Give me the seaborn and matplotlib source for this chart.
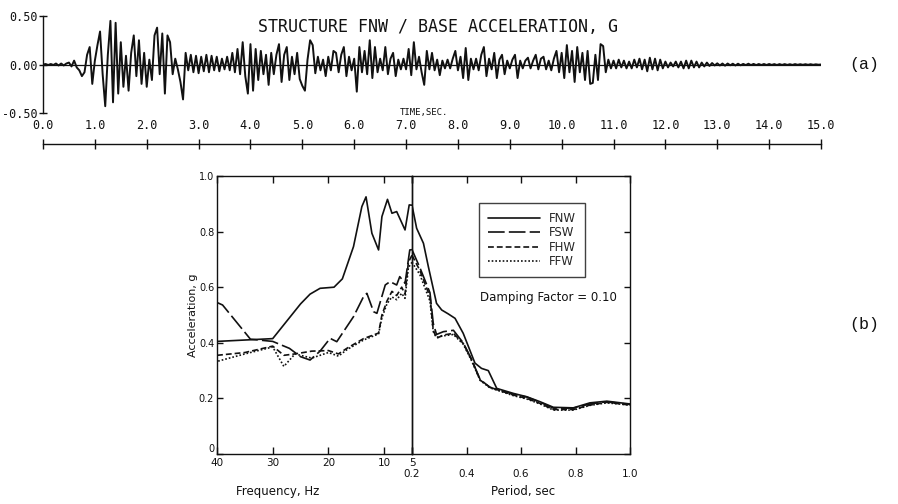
import numpy as np
import pandas as pd
import matplotlib
matplotlib.use("Agg")
import matplotlib.pyplot as plt
from matplotlib.lines import Line2D
import seaborn as sns

# --------------------------
# Data
# --------------------------
# (a) base acceleration trace, g, one value every 0.05 s (20 per second)
trace_dt = 0.05
sec00 = [0.0, 0.005, -0.005, 0.005, -0.005, 0.01, -0.01, 0.01, -0.01, 0.01, 0.02, -0.02, 0.04, -0.03, -0.06, -0.12, -0.08, 0.10, 0.18, -0.20]
sec01 = [0.04, 0.20, 0.34, -0.10, -0.43, 0.10, 0.45, -0.39, 0.43, -0.30, 0.23, -0.23, 0.09, -0.27, 0.12, 0.30, -0.12, 0.25, -0.20, 0.12]
sec02 = [-0.23, 0.05, -0.16, 0.30, 0.38, -0.10, 0.32, -0.30, 0.30, 0.23, -0.10, 0.06, -0.05, -0.18, -0.36, 0.12, -0.06, 0.10, -0.08, 0.09]
sec03 = [-0.09, 0.08, -0.07, 0.10, -0.08, 0.09, -0.06, 0.08, -0.07, 0.06, -0.05, 0.08, -0.06, 0.12, -0.08, 0.16, -0.10, 0.23, -0.12, -0.30]
sec04 = [0.21, -0.27, 0.16, -0.16, 0.14, -0.10, 0.10, -0.21, 0.12, -0.10, 0.10, 0.21, -0.18, 0.10, 0.18, -0.16, 0.08, -0.10, 0.12, -0.15]
sec05 = [-0.22, -0.27, 0.05, 0.25, 0.20, -0.09, 0.08, -0.06, 0.05, -0.12, 0.08, -0.06, 0.14, 0.12, -0.08, 0.10, 0.18, -0.12, 0.08, -0.06]
sec06 = [0.06, -0.28, 0.18, -0.08, 0.14, -0.10, 0.25, -0.14, 0.18, -0.08, 0.06, -0.06, 0.18, -0.10, 0.06, 0.12, -0.12, 0.05, -0.05, 0.06]
sec07 = [-0.05, 0.16, -0.11, 0.23, -0.05, 0.08, -0.08, -0.21, 0.14, -0.05, 0.12, -0.06, 0.05, -0.11, 0.04, -0.04, 0.05, -0.04, 0.06, 0.14]
sec08 = [-0.06, 0.08, -0.14, 0.17, -0.16, 0.06, -0.05, 0.06, -0.06, 0.10, 0.18, -0.12, 0.06, -0.05, 0.12, -0.14, 0.05, 0.10, -0.10, 0.04]
sec09 = [-0.04, 0.05, 0.10, -0.14, 0.04, -0.04, 0.04, 0.07, -0.04, 0.04, 0.10, -0.05, 0.06, 0.08, -0.05, 0.04, -0.06, 0.06, 0.14, -0.08]
sec10 = [0.12, -0.14, 0.20, -0.08, 0.14, -0.18, 0.18, -0.08, 0.12, -0.16, 0.14, -0.20, -0.19, 0.10, -0.16, 0.21, 0.19, -0.08, 0.05, -0.04]
sec11 = [0.04, -0.04, 0.05, -0.03, 0.04, -0.04, 0.03, -0.04, 0.05, -0.03, 0.06, -0.05, 0.05, -0.07, 0.07, -0.05, 0.06, -0.06, 0.05, -0.04]
sec12 = [0.03, -0.03, 0.02, -0.02, 0.03, -0.03, 0.03, -0.04, 0.04, -0.04, 0.04, -0.03, 0.03, -0.03, 0.02, -0.02, 0.02, -0.015, 0.015, -0.01]
sec13 = [0.012, -0.01, 0.01, -0.012, 0.01, -0.008, 0.008, -0.01, 0.008, -0.008, 0.006, -0.006, 0.008, -0.006, 0.006, -0.006, 0.005, -0.005, 0.005, -0.005]
sec14 = [0.005, -0.004, 0.004, -0.005, 0.004, -0.004, 0.004, -0.004, 0.003, -0.004, 0.004, -0.003, 0.003, -0.003, 0.003, -0.003, 0.003, -0.003, 0.002, -0.002]
sec15 = [0.0]
trace_g = sec00 + sec01 + sec02 + sec03 + sec04 + sec05 + sec06 + sec07 + sec08 + sec09 + sec10 + sec11 + sec12 + sec13 + sec14 + sec15
trace_t = np.arange(len(trace_g)) * trace_dt

time_ticks = list(range(0, 16))
time_labels = [f"{v:.1f}" for v in time_ticks]

# (b) response spectra, left half vs frequency (Hz), right half vs period (sec)
series_names = ["FNW", "FSW", "FHW", "FFW"]

fnw_hz = [40, 35, 30, 27, 25, 23.3, 21.5, 19, 17.5, 15.5, 14.0, 13.25, 12.2, 11.0, 10.4, 9.4, 8.6, 7.75, 6.25, 5.5, 5]
fnw_hz_g = [0.405, 0.41, 0.415, 0.49, 0.54, 0.575, 0.596, 0.6, 0.63, 0.746, 0.89, 0.925, 0.794, 0.734, 0.854, 0.916, 0.866, 0.872, 0.806, 0.896, 0.895]
fsw_hz = [40, 39, 34, 30, 27, 25, 23.3, 21.5, 19.7, 18.5, 15.5, 13.7, 13.1, 11.9, 11.3, 9.8, 8.95, 7.75, 7.2, 6.25, 5.4, 5]
fsw_hz_g = [0.545, 0.536, 0.413, 0.405, 0.38, 0.35, 0.338, 0.37, 0.416, 0.404, 0.494, 0.566, 0.578, 0.512, 0.506, 0.608, 0.62, 0.608, 0.638, 0.614, 0.734, 0.735]
fhw_hz = [40, 35, 30, 28, 26, 23, 20, 18.2, 16.7, 13.7, 11.0, 10.4, 9.5, 8.6, 7.75, 6.85, 6.25, 5.65, 5]
fhw_hz_g = [0.355, 0.365, 0.388, 0.355, 0.36, 0.37, 0.372, 0.36, 0.38, 0.415, 0.435, 0.50, 0.55, 0.585, 0.57, 0.60, 0.575, 0.69, 0.715]
ffw_hz = [40, 35, 30, 28, 26, 23, 20, 18.2, 16.7, 13.7, 11.0, 10.4, 9.5, 8.6, 7.75, 6.85, 6.25, 5.65, 5]
ffw_hz_g = [0.333, 0.36, 0.385, 0.315, 0.36, 0.345, 0.365, 0.352, 0.375, 0.41, 0.432, 0.49, 0.54, 0.565, 0.555, 0.578, 0.56, 0.67, 0.69]

fnw_sec = [0.2, 0.217, 0.242, 0.26, 0.29, 0.309, 0.333, 0.358, 0.388, 0.431, 0.455, 0.48, 0.511, 0.572, 0.621, 0.67, 0.719, 0.792, 0.853, 0.915, 1.0]
fnw_sec_g = [0.895, 0.812, 0.758, 0.674, 0.542, 0.518, 0.504, 0.488, 0.434, 0.327, 0.308, 0.30, 0.236, 0.218, 0.206, 0.188, 0.168, 0.166, 0.184, 0.19, 0.18]
rest_sec = [0.2, 0.229, 0.266, 0.278, 0.29, 0.315, 0.352, 0.388, 0.419, 0.45, 0.486, 0.511, 0.572, 0.621, 0.67, 0.719, 0.792, 0.853, 0.915, 1.0]
fsw_sec_g = [0.735, 0.67, 0.58, 0.47, 0.43, 0.44, 0.445, 0.40, 0.34, 0.268, 0.24, 0.232, 0.215, 0.205, 0.186, 0.165, 0.165, 0.18, 0.188, 0.178]
fhw_sec_g = [0.715, 0.66, 0.566, 0.446, 0.416, 0.428, 0.434, 0.398, 0.338, 0.266, 0.24, 0.232, 0.212, 0.2, 0.182, 0.16, 0.16, 0.176, 0.186, 0.176]
ffw_sec_g = [0.69, 0.645, 0.55, 0.44, 0.42, 0.425, 0.43, 0.395, 0.335, 0.265, 0.238, 0.23, 0.21, 0.198, 0.18, 0.158, 0.158, 0.175, 0.184, 0.176]

hz_ticks = [40, 30, 20, 10, 5]
sec_ticks = [0.2, 0.4, 0.6, 0.8, 1.0]
g_ticks = [0, 0.2, 0.4, 0.6, 0.8, 1.0]
g_labels = ["0", "0.2", "0.4", "0.6", "0.8", "1.0"]

# long tables for seaborn
left_df = pd.concat([
    pd.DataFrame({"x": fnw_hz, "g": fnw_hz_g, "series": "FNW"}),
    pd.DataFrame({"x": fsw_hz, "g": fsw_hz_g, "series": "FSW"}),
    pd.DataFrame({"x": fhw_hz, "g": fhw_hz_g, "series": "FHW"}),
    pd.DataFrame({"x": ffw_hz, "g": ffw_hz_g, "series": "FFW"}),
])
right_df = pd.concat([
    pd.DataFrame({"x": fnw_sec, "g": fnw_sec_g, "series": "FNW"}),
    pd.DataFrame({"x": rest_sec, "g": fsw_sec_g, "series": "FSW"}),
    pd.DataFrame({"x": rest_sec, "g": fhw_sec_g, "series": "FHW"}),
    pd.DataFrame({"x": rest_sec, "g": ffw_sec_g, "series": "FFW"}),
])

dash_map = {"FNW": "", "FSW": (10, 2.5), "FHW": (3.5, 1.8), "FFW": (1, 1.2)}

# --------------------------
# Figure
# --------------------------
sns.set_theme(style="white")
plt.rcParams['font.family'] = ['DejaVu Sans']
ink = "#111111"
mono = "DejaVu Sans Mono"

W, H = 898, 504
fig = plt.figure(figsize=(W / 100, H / 100), dpi=100)

def box(x0, y0, x1, y1):
    return [x0 / W, 1 - y1 / H, (x1 - x0) / W, (y1 - y0) / H]

# ---- (a) acceleration trace
ax_a = fig.add_axes(box(43, 16, 821, 113))
ax_a.axhline(0, color=ink, lw=0.9)
sns.lineplot(x=trace_t, y=trace_g, ax=ax_a, color=ink, lw=1.4, estimator=None, sort=False)
ax_a.set_xlim(0, 15)
ax_a.set_ylim(-0.5, 0.5)
for s in ["top", "right", "bottom"]:
    ax_a.spines[s].set_visible(False)
ax_a.spines["left"].set_color(ink)
ax_a.spines["left"].set_linewidth(1.0)
ax_a.set_xticks([])
ax_a.set_yticks([-0.5, 0, 0.5])
ax_a.set_yticklabels(["-0.50", "0.00", "0.50"], fontfamily=mono, fontsize=8.5, color=ink)
ax_a.tick_params(axis="y", left=True, direction="inout", length=6, width=1, color=ink, pad=1)
ax_a.patch.set_alpha(0)

# time axis drawn below, labels above the line
ax_t = fig.add_axes([43 / W, 1 - 144 / H, 778 / W, 0.0001])
ax_t.set_xlim(0, 15)
for s in ["top", "right", "left"]:
    ax_t.spines[s].set_visible(False)
ax_t.spines["bottom"].set_color(ink)
ax_t.spines["bottom"].set_linewidth(1.0)
ax_t.set_yticks([])
ax_t.set_xticks(time_ticks)
ax_t.set_xticklabels(time_labels, fontfamily=mono, fontsize=8.5, color=ink)
ax_t.tick_params(axis="x", bottom=True, top=False, labelbottom=False, labeltop=True,
                 direction="inout", length=7, width=1, color=ink, pad=5)
ax_t.patch.set_alpha(0)

fig.text(438 / W, 1 - 27 / H, "STRUCTURE FNW / BASE ACCELERATION, G",
         ha="center", va="center", family=mono, fontsize=12, color=ink)
fig.text(400 / W, 1 - 112 / H, "TIME,SEC.", ha="left", va="center",
         family=mono, fontsize=6.5, color=ink)
fig.text(864 / W, 1 - 65 / H, "(a)", ha="center", va="center",
         family="Liberation Mono", fontsize=12, color=ink)
fig.text(864 / W, 1 - 325 / H, "(b)", ha="center", va="center",
         family="Liberation Mono", fontsize=12, color=ink)

# ---- (b) response spectra
ax_l = fig.add_axes(box(217, 176, 412, 454))
ax_r = fig.add_axes(box(412, 176, 630, 454))

sns.lineplot(data=left_df, x="x", y="g", style="series", dashes=dash_map, color=ink,
             lw=1.2, estimator=None, legend=False, ax=ax_l)
sns.lineplot(data=right_df, x="x", y="g", style="series", dashes=dash_map, color=ink,
             lw=1.2, estimator=None, legend=False, ax=ax_r)

for ax in (ax_l, ax_r):
    ax.set_ylim(0, 1)
    ax.set_xlabel("")
    ax.set_ylabel("")
    for s in ax.spines.values():
        s.set_color(ink)
        s.set_linewidth(1.0)
    ax.set_yticks(g_ticks)
    ax.patch.set_alpha(0)

ax_l.set_xlim(40, 5)
ax_l.set_xticks(hz_ticks)
ax_l.set_xticklabels([str(v) for v in hz_ticks], fontsize=7.5, color=ink)
ax_l.set_yticklabels(g_labels, fontsize=7, color=ink)
ax_l.get_yticklabels()[0].set_verticalalignment("bottom")
ax_l.tick_params(axis="x", bottom=True, top=True, direction="in", length=5, width=1, color=ink, pad=3)
ax_l.tick_params(axis="y", left=True, right=False, direction="in", length=4, width=1, color=ink, pad=2)

ax_r.set_xlim(0.2, 1.0)
ax_r.set_xticks(sec_ticks)
ax_r.set_xticklabels([f"{v:.1f}" for v in sec_ticks], fontsize=7.5, color=ink)
ax_r.tick_params(axis="x", bottom=True, top=True, direction="in", length=5, width=1, color=ink, pad=11)
ax_r.tick_params(axis="y", left=False, right=True, labelleft=False, direction="in", length=4, width=1, color=ink)

fig.text(193 / W, 1 - 315 / H, "Acceleration, g", rotation=90, ha="center", va="center",
         fontsize=8, color=ink)
fig.text(278 / W, 1 - 491 / H, "Frequency, Hz", ha="center", va="center", fontsize=8.5, color=ink)
fig.text(523 / W, 1 - 491 / H, "Period, sec", ha="center", va="center", fontsize=8.5, color=ink)
fig.text(480 / W, 1 - 298 / H, "Damping Factor = 0.10", ha="left", va="center", fontsize=8.5, color=ink)

handles = []
for name in series_names:
    if dash_map[name] == "":
        h = Line2D([], [], color=ink, lw=1.2, linestyle="-")
    else:
        h = Line2D([], [], color=ink, lw=1.2, dashes=dash_map[name])
    handles.append(h)
leg = fig.legend(handles, series_names, loc="upper left", bbox_to_anchor=(479 / W, 1 - 203 / H),
                 frameon=True, fancybox=False, edgecolor=ink, fontsize=8.5,
                 handlelength=4.4, handletextpad=0.8, labelspacing=0.12, borderpad=0.75,
                 borderaxespad=0)
leg.get_frame().set_linewidth(1.0)

fig.savefig("out.png", dpi=100, facecolor="white")
